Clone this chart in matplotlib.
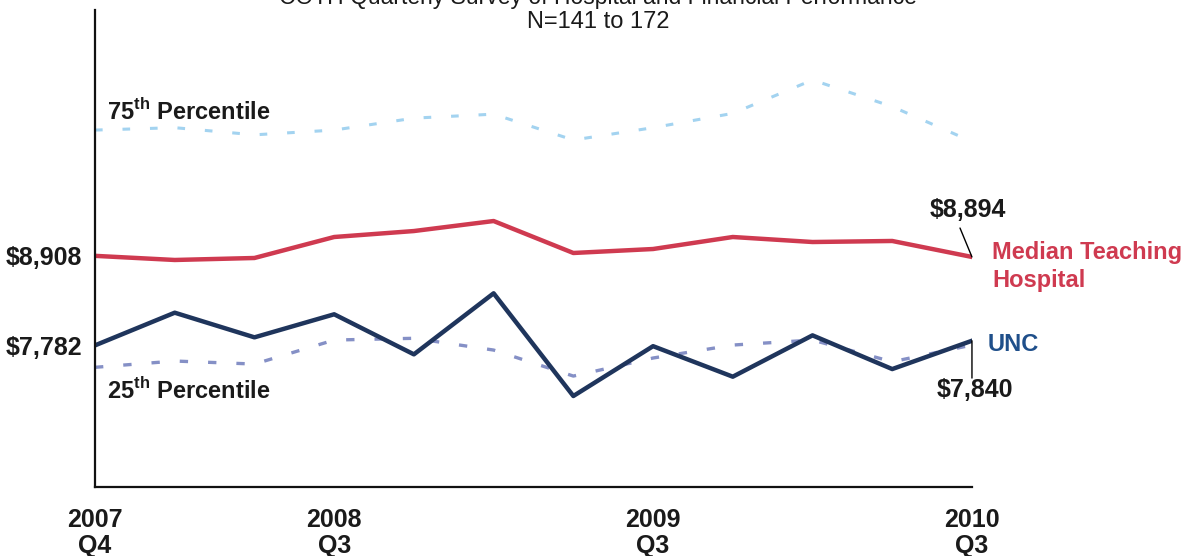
import matplotlib
matplotlib.use('Agg')
import matplotlib.pyplot as plt

plt.rcParams['font.family'] = ['Liberation Sans', 'DejaVu Sans']
plt.rcParams['mathtext.fontset'] = 'custom'
plt.rcParams['mathtext.rm'] = 'Liberation Sans:bold'
plt.rcParams['mathtext.bf'] = 'Liberation Sans:bold'

quarters = ['2007\nQ4', '2008\nQ1', '2008\nQ2', '2008\nQ3', '2008\nQ4', '2009\nQ1',
            '2009\nQ2', '2009\nQ3', '2009\nQ4', '2010\nQ1', '2010\nQ2', '2010\nQ3']
shown_ticks = [0, 3, 7, 11]

p75 = [10490, 10520, 10430, 10490, 10640, 10690, 10365, 10520, 10700, 11120, 10785, 10345]
median = [8908, 8856, 8881, 9145, 9220, 9346, 8944, 8994, 9145, 9082, 9095, 8894]
unc = [7782, 8193, 7883, 8173, 7669, 8437, 7145, 7772, 7388, 7908, 7484, 7840]
p25 = [7506, 7585, 7547, 7849, 7871, 7723, 7396, 7623, 7786, 7849, 7576, 7786]

x = list(range(len(quarters)))

red = '#cf3a50'
navy = '#1f355c'
unc_blue = '#1f4f8a'
txt = '#1a1a1a'

fig = plt.figure(figsize=(11.92, 5.56), dpi=100)
ax = fig.add_axes([0.0797, 0.124, 0.7357, 0.858])

ax.plot(x, p75, color='#a3d3f0', lw=2.2, dashes=(2.5, 6.5))
ax.plot(x, p25, color='#8590c6', lw=2.4, dashes=(2.5, 6))
ax.plot(x, median, color=red, lw=3.2)
ax.plot(x, unc, color=navy, lw=3.2)

ax.set_xlim(0, 11)
ax.set_ylim(6000, 12000)

ax.set_xticks(shown_ticks)
ax.set_xticklabels([quarters[i] for i in shown_ticks], fontsize=18, fontweight='bold',
                   linespacing=1.1, color=txt)
ax.tick_params(axis='x', length=0, pad=15)

ax.set_yticks([median[0], unc[0]])
ax.set_yticklabels([f'${median[0]:,}', f'${unc[0]:,}'], fontsize=18, fontweight='bold',
                   color=txt)
ax.tick_params(axis='y', length=0, pad=9)

for s in ['top', 'right']:
    ax.spines[s].set_visible(False)
for s in ['left', 'bottom']:
    ax.spines[s].set_linewidth(1.6)
    ax.spines[s].set_color('#111111')

ax.text(0.15, p75[0] + 225, r'75$^{\mathbf{th}}$ Percentile', fontsize=17,
        fontweight='bold', color=txt, va='center')
ax.text(0.15, p25[0] - 290, r'25$^{\mathbf{th}}$ Percentile', fontsize=17,
        fontweight='bold', color=txt, va='center')

# end-value callouts
ax.annotate('', xy=(11, median[-1]), xytext=(10.85, median[-1] + 364),
            arrowprops=dict(arrowstyle='-', color='black', lw=1.0, shrinkA=0, shrinkB=0))
ax.text(10.95, median[-1] + 591, f'${median[-1]:,}', fontsize=18, fontweight='bold',
        color=txt, ha='center', va='center')
ax.annotate('', xy=(11, unc[-1]), xytext=(11, unc[-1] - 469),
            arrowprops=dict(arrowstyle='-', color='black', lw=1.0, shrinkA=0, shrinkB=0))
ax.text(11.04, unc[-1] - 620, f'${unc[-1]:,}', fontsize=18, fontweight='bold',
        color=txt, ha='center', va='center')

ax.text(11.25, median[-1] - 120, 'Median Teaching\nHospital', fontsize=17,
        fontweight='bold', color=red, va='center', ha='left', linespacing=1.25)
ax.text(11.2, unc[-1] - 50, 'UNC', fontsize=17, fontweight='bold', color=unc_blue,
        va='center', ha='left')

# title, top line cropped by the page edge as in the scan
fig.text(0.5015, 0.984, 'COTH Quarterly Survey of Hospital and Financial Performance',
         fontsize=16.5, ha='center', va='bottom', color=txt)
fig.text(0.5015, 0.96, 'N=141 to 172', fontsize=17, ha='center', va='center', color=txt)

fig.savefig('out.png', dpi=100)
